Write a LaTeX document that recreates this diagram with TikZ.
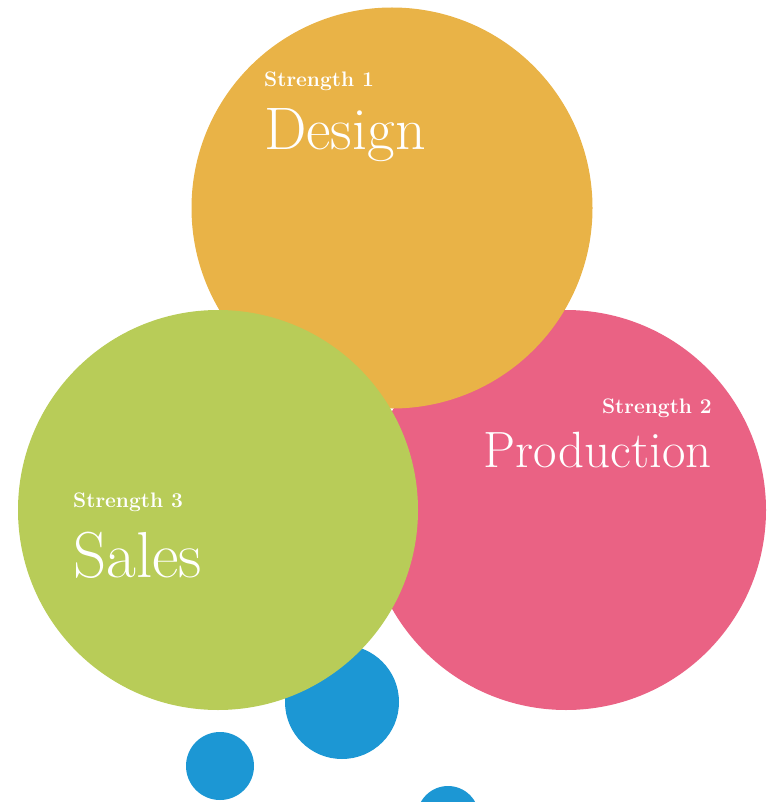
\documentclass[tikz,border=0pt]{standalone}
\usepackage{tikz}
\definecolor{designcol}{HTML}{E9B347}
\definecolor{prodcol}{HTML}{EA6284}
\definecolor{salescol}{HTML}{B8CC58}
\definecolor{dotcol}{HTML}{1C97D4}
\tikzstyle{bubble}=[circle,inner sep=0pt,draw=none]
\tikzstyle{tag}=[text=white,inner sep=0pt,font=\bfseries\fontsize{21}{23}\selectfont]
\tikzstyle{title}=[text=white,inner sep=0pt]

\begin{document}
\begin{tikzpicture}[x=1pt,y=-1pt]
          \useasboundingbox (0,0) rectangle (775,802);

          \node[bubble,fill=dotcol,minimum size=114pt] (d1) at (342,702) {};
          \node[bubble,fill=dotcol,minimum size=68pt]  (d2) at (220,766) {};
          \node[bubble,fill=dotcol,minimum size=62pt]  (d3) at (448,817) {};

          \node[bubble,fill=prodcol,minimum size=400pt]   (prod)   at (566,510) {};
          \node[bubble,fill=designcol,minimum size=401pt] (design) at (392,208) {};
          \node[bubble,fill=salescol,minimum size=400pt]  (sales)  at (218,510) {};

          \node[tag,anchor=base west]   (s1) at (264,87) {Strength 1};
          \node[title,anchor=base west,font=\fontsize{60}{64}\selectfont] (n1) at (264,150) {Design};

          \node[tag,anchor=base east]   (s2) at (712,413) {Strength 2};
          \node[title,anchor=base east,font=\fontsize{51}{55}\selectfont] (n2) at (712,467) {Production};

          \node[tag,anchor=base west]   (s3) at (73,507) {Strength 3};
          \node[title,anchor=base west,font=\fontsize{65}{69}\selectfont] (n3) at (73,577) {Sales};
        \end{tikzpicture}
\end{document}
